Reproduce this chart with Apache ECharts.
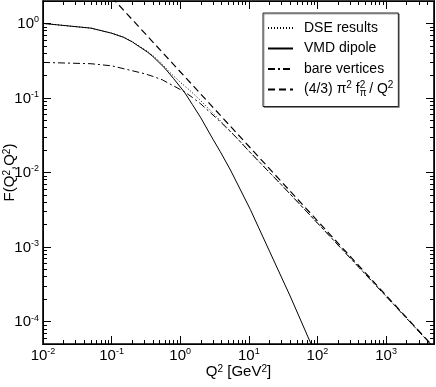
<!DOCTYPE html>
<html><head><meta charset="utf-8">
<script src="https://cdn.jsdelivr.net/npm/echarts@6/dist/echarts.min.js"></script>
<style>html,body{margin:0;padding:0;background:#fff}#c{width:436px;height:387px}</style>
</head><body><div id="c"></div>
<script>
// ---- data (Q^2 in GeV^2, F dimensionless) ----
const Q2_DSE = [0.01, 0.05, 0.1, 0.15, 0.2, 0.26, 0.33, 0.4, 0.51, 0.7, 1.0, 1.4, 1.96, 3.44, 6.7, 10, 30, 100, 300, 1000, 5000];
const F_DSE  = [1.0, 0.865, 0.74, 0.655, 0.57, 0.49, 0.425, 0.37, 0.305, 0.222, 0.163, 0.125, 0.093, 0.055, 0.029, 0.0195, 0.0068, 0.0021, 0.00072, 0.000219, 0.0000445];

const Q2_VMD = [0.01, 0.05, 0.1, 0.15, 0.2, 0.26, 0.33, 0.4, 0.6, 0.8, 1.15, 1.5, 2.0, 3.0, 3.84, 5.4, 10.5, 20, 40, 80, 100];
const F_VMD  = [1.0, 0.865, 0.74, 0.65, 0.565, 0.48, 0.415, 0.36, 0.25, 0.182, 0.12, 0.082, 0.054, 0.028, 0.019, 0.0108, 0.0032, 0.00088, 0.00022, 0.000051, 0.000033];

const Q2_BARE = [0.01, 0.05, 0.1, 0.2, 0.3, 0.4, 0.55, 0.7, 0.9, 1.15, 1.5, 2.0, 3.84, 6.7, 10, 30, 100, 300, 1000, 5000];
const F_BARE  = [0.30, 0.288, 0.27, 0.232, 0.212, 0.195, 0.175, 0.155, 0.137, 0.121, 0.102, 0.083, 0.048, 0.029, 0.0194, 0.0068, 0.0021, 0.00071, 0.000218, 0.0000445];

const Q2_ASYM = [0.1, 1, 10, 100, 1000, 5000];
const F_ASYM  = [2.25, 0.225, 0.0225, 0.00225, 0.000225, 0.000045];

const NAMES = ['DSE results', 'VMD dipole', 'bare vertices', '(4/3) π² f_π² / Q²'];

const X_MIN = 0.01, X_MAX = 5000, Y_MIN = 0.00005, Y_MAX = 2;
const X_MAJOR = [0.01, 0.1, 1, 10, 100, 1000];
const Y_MAJOR = [0.0001, 0.001, 0.01, 0.1, 1];

// minor tick positions (2..9 per decade)
function minors(lo, hi, d0, d1) {
  const out = [];
  for (let d = d0; d <= d1; d++) for (let m = 2; m <= 9; m++) {
    const v = m * Math.pow(10, d);
    if (v > lo * 1.0001 && v < hi * 0.9999) out.push(v);
  }
  return out;
}
const X_MINOR = minors(X_MIN, X_MAX, -2, 3);
const Y_MINOR = minors(Y_MIN, Y_MAX, -5, 0);

const FONT = 'Liberation Sans, Arial, Helvetica, sans-serif';
const zip = (a, b) => a.map((v, i) => [v, b[i]]);

function powLabel(v) {
  const l = Math.log10(v), e = Math.round(l);
  if (Math.abs(l - e) > 1e-6) return '';
  return '{b|10}{s|' + e + '}';
}
const labelRich = {
  b: { fontSize: 15, fontFamily: FONT, color: '#000', lineHeight: 16, padding: [5, 0, 0, 0], verticalAlign: 'bottom' },
  s: { fontSize: 9, fontFamily: FONT, color: '#000', lineHeight: 9, verticalAlign: 'top' }
};
const supRich = { fontSize: 10, fontFamily: FONT, color: '#000', lineHeight: 10, verticalAlign: 'top' };
const tickLine = { color: '#000', width: 1 };

// helper axes that only carry tick marks (axis line lies on the frame)
function tickAxis(min, max, pos, values, len) {
  return {
    type: 'log', logBase: 10, min: min, max: max, position: pos,
    axisLine: { show: true, lineStyle: { color: '#000', width: 1 } },
    splitLine: { show: false }, minorTick: { show: false },
    axisLabel: { show: false },
    axisTick: { show: true, inside: true, length: len, customValues: values, lineStyle: tickLine }
  };
}

const chart = echarts.init(document.getElementById('c'));
chart.setOption({
  animation: false,
  backgroundColor: '#fff',
  grid: { left: 43, right: 2, top: 1, bottom: 43, containLabel: false, outerBoundsMode: 'none',
          show: true, borderColor: '#000', borderWidth: 1.6, backgroundColor: 'transparent' },
  xAxis: [
    {
      type: 'log', logBase: 10, min: X_MIN, max: X_MAX, position: 'bottom',
      name: 'Q{s|2} [GeV{s|2}]', nameLocation: 'middle', nameGap: 20, nameMoveOverlap: false,
      nameTextStyle: { fontSize: 15, fontFamily: FONT, color: '#000', rich: { s: supRich } },
      axisLine: { show: true, lineStyle: { color: '#000', width: 1 } }, splitLine: { show: false }, minorTick: { show: false },
      axisTick: { show: true, inside: true, length: 8, customValues: X_MAJOR, lineStyle: tickLine },
      axisLabel: { formatter: powLabel, rich: labelRich, margin: 3, customValues: X_MAJOR, showMinLabel: true, showMaxLabel: true, hideOverlap: false }
    },
    tickAxis(X_MIN, X_MAX, 'top', X_MAJOR, 8),
    tickAxis(X_MIN, X_MAX, 'top', X_MINOR, 4),
    tickAxis(X_MIN, X_MAX, 'bottom', X_MINOR, 4)
  ],
  yAxis: [
    {
      type: 'log', logBase: 10, min: Y_MIN, max: Y_MAX, position: 'left',
      name: 'F(Q{s|2},Q{s|2})', nameLocation: 'middle', nameGap: 26, nameMoveOverlap: false,
      nameTextStyle: { fontSize: 15, fontFamily: FONT, color: '#000', rich: { s: supRich } },
      axisLine: { show: true, lineStyle: { color: '#000', width: 1 } }, splitLine: { show: false }, minorTick: { show: false },
      axisTick: { show: true, inside: true, length: 8, customValues: Y_MAJOR, lineStyle: tickLine },
      axisLabel: { formatter: powLabel, rich: labelRich, margin: 4, customValues: Y_MAJOR, showMinLabel: true, showMaxLabel: true, hideOverlap: false }
    },
    tickAxis(Y_MIN, Y_MAX, 'right', Y_MAJOR, 8),
    tickAxis(Y_MIN, Y_MAX, 'right', Y_MINOR, 4),
    tickAxis(Y_MIN, Y_MAX, 'left', Y_MINOR, 4)
  ],
  legend: {
    orient: 'vertical', left: 263, top: 13,
    data: NAMES,
    itemWidth: 25, itemHeight: 14, itemGap: 2.5,
    padding: [6, 5, 8, 4],
    borderColor: '#222', borderWidth: 1, backgroundColor: '#fff',
    shadowColor: 'rgba(0,0,0,0.35)', shadowOffsetX: 1, shadowOffsetY: 1, shadowBlur: 0,
    selectedMode: false,
    itemStyle: { color: 'rgba(0,0,0,0)', borderColor: 'rgba(0,0,0,0)', borderWidth: 0, opacity: 0 },
    textStyle: { fontSize: 14, fontFamily: FONT, color: '#000', lineHeight: 18, padding: [0, 0, 0, 6],
      rich: {
        sup: supRich,
        sub: { fontSize: 10, fontFamily: FONT, color: '#000', lineHeight: 10, verticalAlign: 'bottom', width: 0 }
      } },
    formatter: function (n) {
      if (n === NAMES[3]) return '(4/3) π{sup|2} f{sub|π}{sup|2} / Q{sup|2}';
      return n;
    }
  },
  series: [
    { name: NAMES[0], type: 'line', data: zip(Q2_DSE, F_DSE), symbol: 'none',
      lineStyle: { color: '#000', width: 1, type: [1, 2] }, itemStyle: { color: '#000' } },
    { name: NAMES[1], type: 'line', data: zip(Q2_VMD, F_VMD), symbol: 'none',
      lineStyle: { color: '#000', width: 1, type: 'solid' }, itemStyle: { color: '#000' } },
    { name: NAMES[2], type: 'line', data: zip(Q2_BARE, F_BARE), symbol: 'none',
      lineStyle: { color: '#000', width: 1, type: [7, 3, 2, 3] }, itemStyle: { color: '#000' } },
    { name: NAMES[3], type: 'line', data: zip(Q2_ASYM, F_ASYM), symbol: 'none',
      lineStyle: { color: '#000', width: 1.2, type: [7, 4] }, itemStyle: { color: '#000' } }
  ]
});
</script>
</body></html>
